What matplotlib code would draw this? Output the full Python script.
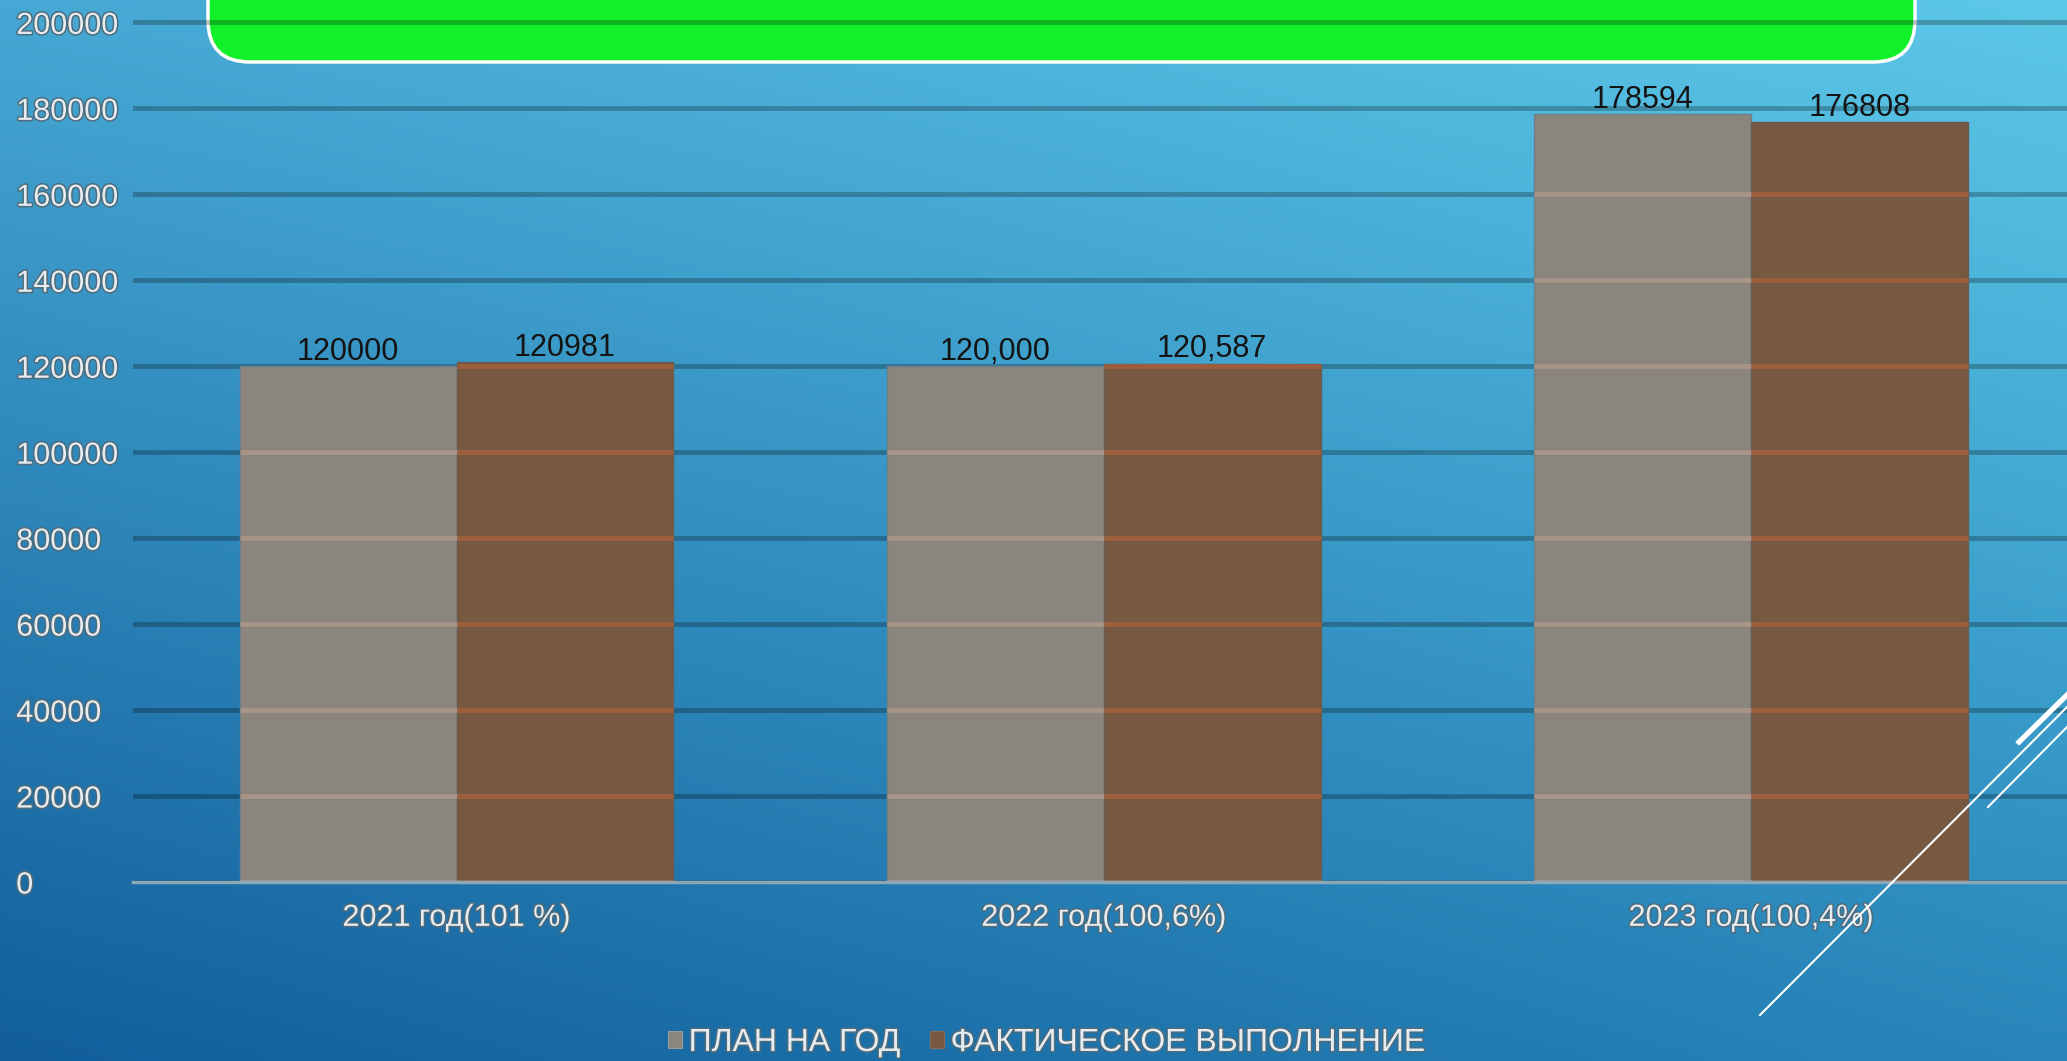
import numpy as np
import matplotlib
matplotlib.use("Agg")
import matplotlib.pyplot as plt
from matplotlib.patches import FancyBboxPatch, Patch
from matplotlib.lines import Line2D
import matplotlib.patheffects as pe

plt.rcParams['font.family'] = ['Liberation Sans', 'DejaVu Sans']

# ---- data ----
categories = ["2021 год(101 %)", "2022 год(100,6%)", "2023 год(100,4%)"]
series_names = ["ПЛАН НА ГОД", "ФАКТИЧЕСКОЕ ВЫПОЛНЕНИЕ"]
plan_values = [120000, 120000, 178594]
fact_values = [120981, 120587, 176808]
plan_labels = ["120000", "120,000", "178594"]
fact_labels = ["120981", "120,587", "176808"]
y_ticks = [0, 20000, 40000, 60000, 80000, 100000, 120000, 140000, 160000, 180000, 200000]

# ---- style ----
W, H, DPI = 20.67, 10.61, 100
plan_color = '#8A857D'
fact_color = '#775840'
plan_grid = '#A89488'
fact_grid = '#9C5F3C'
light_text = '#E6ECEF'
outline = [pe.withStroke(linewidth=2.2, foreground='#4E6C7C')]

fig = plt.figure(figsize=(W, H), dpi=DPI)

# background gradient
bg = fig.add_axes([0, 0, 1, 1], zorder=-2)
bg.set_axis_off()
tl = np.array([0x46, 0xA8, 0xD4]) / 255
tr = np.array([0x5C, 0xC8, 0xE8]) / 255
bl = np.array([0x11, 0x5E, 0x9B]) / 255
br = np.array([0x28, 0x86, 0xBA]) / 255
u = np.linspace(0, 1, 200)[None, :, None]
v = np.linspace(0, 1, 120)[:, None, None]
img = (1 - v) * ((1 - u) * tl + u * tr) + v * ((1 - u) * bl + u * br)
bg.imshow(img, aspect='auto', extent=[0, 1, 0, 1], interpolation='bilinear')
bg.set_xlim(0, 1)
bg.set_ylim(0, 1)

# green title placeholder box (in inches)
box = FancyBboxPatch((2.08, 9.99), 17.07, 1.6,
                     boxstyle="round,pad=0,rounding_size=0.42",
                     transform=fig.dpi_scale_trans,
                     facecolor='#12F02A', edgecolor='white', linewidth=2.5,
                     zorder=-1)
fig.add_artist(box)

ax = fig.add_axes([0.0643, 0.1687, 0.9395, 0.8304], zorder=0)
ax.set_facecolor('none')

x = np.arange(len(categories))
bw = 0.335
b1 = ax.bar(x - bw / 2, plan_values, bw, color=plan_color, edgecolor='#6F7F86',
            linewidth=1.0, zorder=3, label=series_names[0])
b2 = ax.bar(x + bw / 2, fact_values, bw, color=fact_color, edgecolor='#6A5A50',
            linewidth=1.0, zorder=3, label=series_names[1])

ax.set_xlim(-0.5, 2.5)
ax.set_ylim(0, 205000)
ax.set_yticks(y_ticks)
ax.set_yticklabels([str(t) for t in y_ticks])
ax.set_xticks(x)
ax.set_xticklabels(categories)

# gridlines behind bars
ax.grid(axis='y', color='black', alpha=0.25, linewidth=3.5, zorder=1)
ax.grid(axis='x', visible=False)
ax.set_axisbelow(True)

# lighter gridline segments on top of the bars
for cont, col in ((b1, plan_grid), (b2, fact_grid)):
    for rect in cont:
        h = rect.get_height()
        x0 = rect.get_x()
        x1 = x0 + rect.get_width()
        for t in y_ticks:
            if t < h:
                ax.hlines(t, x0, x1, colors=col, linewidth=3.5, zorder=4)

for s in ('left', 'right', 'top'):
    ax.spines[s].set_visible(False)
ax.spines['bottom'].set_color('#8AA8B8')
ax.spines['bottom'].set_linewidth(2.5)
ax.spines['bottom'].set_zorder(5)

ax.tick_params(axis='both', length=0)
ax.tick_params(axis='y', pad=84, labelsize=22, labelcolor=light_text)
ax.tick_params(axis='x', pad=15, labelsize=22, labelcolor=light_text)
for lab in ax.get_yticklabels():
    lab.set_horizontalalignment('left')
    lab.set_path_effects(outline)
for lab in ax.get_xticklabels():
    lab.set_path_effects(outline)

ax.bar_label(b1, labels=plan_labels, padding=-0.5, fontsize=22, color='#141414', zorder=6)
ax.bar_label(b2, labels=fact_labels, padding=-0.5, fontsize=22, color='#141414', zorder=6)

# legend
handles = [Patch(facecolor=plan_color, edgecolor='#9A9A9A', linewidth=0.8),
           Patch(facecolor=fact_color, edgecolor='#8A6A50', linewidth=0.8)]
leg = fig.legend(handles, series_names, loc='center', bbox_to_anchor=(0.5066, 0.017),
                 ncol=2, frameon=False, fontsize=23, handlelength=0.45,
                 handleheight=0.45, handletextpad=0.2, columnspacing=0.9,
                 borderpad=0, borderaxespad=0)
for t in leg.get_texts():
    t.set_color(light_text)
    t.set_path_effects(outline)

# decorative white lines (bottom right)
deco = [((17.60, 0.46), (20.70, 3.57), 1.5),
        ((19.88, 2.54), (20.70, 3.37), 1.5),
        ((20.19, 3.19), (20.70, 3.69), 3.8)]
for (xa, ya), (xb, yb), lw in deco:
    fig.add_artist(Line2D([xa, xb], [ya, yb], transform=fig.dpi_scale_trans,
                          color='white', linewidth=lw, zorder=10))

fig.savefig('out.png', dpi=DPI)
